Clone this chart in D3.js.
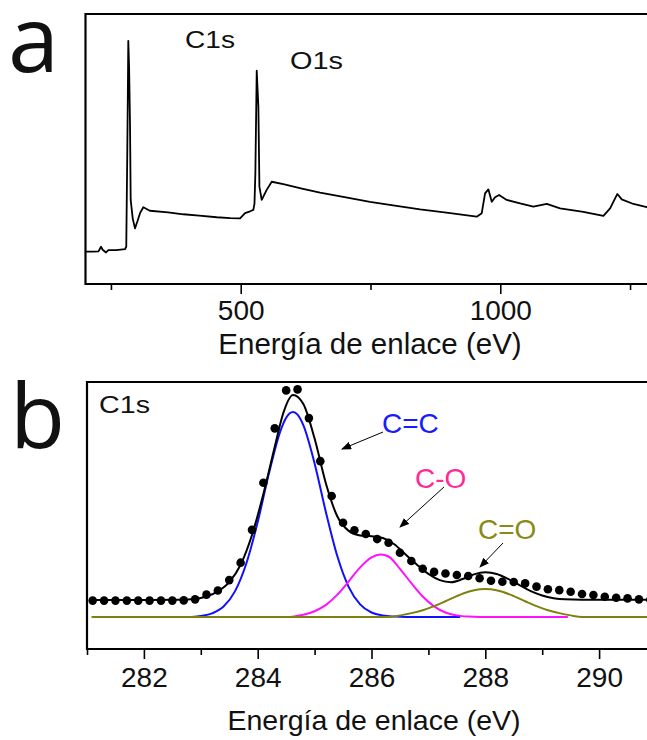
<!DOCTYPE html>
<html>
<head>
<meta charset="utf-8">
<script src="https://cdnjs.cloudflare.com/ajax/libs/d3/7.8.5/d3.min.js"></script>
<style>
  body { margin: 0; background: #fff; }
  svg text { font-family: "Liberation Sans", Arial, sans-serif; }
</style>
</head>
<body>
<script>

// (a) survey spectrum, binding energy (eV) vs intensity (a.u.)
var surveyEnergy = [202, 215, 226, 230.8, 234, 240.5, 245, 260, 277, 279.5, 281.5, 282.5, 283.4, 285, 286.7, 288,
  292, 296.3, 301, 306, 312.3, 325, 360, 389.4, 420, 453.7, 480, 498.7, 508.3, 518, 524.3, 526.5, 528.2, 530.8,
  532.5, 534, 536, 540.4, 545, 550, 559.7, 582, 620, 652.8, 700, 749, 800, 845.5, 900, 954.7, 964.3, 970.7, 977,
  983.6, 990, 997.7, 1012.5, 1040, 1063.8, 1089.6, 1115.2, 1160, 1198.7, 1211.6, 1220, 1225.6, 1234, 1256.5, 1282.2, 1300];
var surveyCounts = [12.3, 12.3, 12.4, 14.1, 13.0, 12.0, 12.9, 12.9, 13.2, 14.1, 49.8, 70, 90.1, 80, 59.8, 31.4,
  24.5, 20.9, 23.5, 26.5, 28.7, 27.4, 26.8, 26.1, 25.6, 25.0, 24.7, 24.6, 26.5, 27.2, 27.7, 30, 41.2, 79.1,
  72, 65.8, 36.3, 31.4, 33.2, 35.1, 38.1, 37.2, 35.5, 34.1, 32.4, 30.7, 29.2, 27.9, 26.6, 25.2, 26.5, 33.8, 35.3,
  30.7, 32.4, 33.2, 31.4, 30.0, 28.9, 29.9, 28.3, 27.0, 25.5, 28.3, 31.5, 33.6, 31.6, 29.9, 28.7, 28.3];
var surveyPeaks = ["C1s", "O1s"];
var surveyTicks = [500, 1000];
var surveyMinorTicks = [250, 750, 1250];

// (b) high resolution C1s: measured points
var c1sEnergy = [281.1, 281.3, 281.5, 281.7, 281.9, 282.1, 282.3, 282.5, 282.7, 282.9, 283.1, 283.3, 283.5, 283.7,
  283.9, 284.1, 284.3, 284.5, 284.7, 284.9, 285.1, 285.3, 285.5, 285.7, 285.9, 286.1, 286.3, 286.5, 286.7, 286.9,
  287.1, 287.3, 287.5, 287.7, 287.9, 288.1, 288.3, 288.5, 288.7, 288.9, 289.1, 289.3, 289.5, 289.7, 289.9, 290.1,
  290.3, 290.5, 290.7, 290.9];
var c1sCounts = [8.0, 8.0, 8.0, 8.0, 8.0, 8.0, 8.0, 8.0, 8.1, 8.6, 10.9, 12.9, 18.0, 26.5,
  42.5, 65.5, 92.0, 110.5, 111.0, 97.0, 76.0, 59.0, 46.0, 42.3, 40.5, 38.0, 36.2, 31.3, 27.3, 23.5,
  22.0, 21.2, 20.5, 20.0, 18.9, 17.7, 17.2, 17.1, 16.4, 14.8, 13.5, 13.1, 12.3, 11.2, 10.7, 9.9,
  9.4, 9.1, 8.6, 8.4];

// envelope of the fit
var fitEnergy = [281.05, 282.0, 282.6, 282.9, 283.1, 283.3, 283.5, 283.7, 283.9, 284.1, 284.3, 284.45, 284.62,
  284.8, 285.0, 285.2, 285.4, 285.6, 285.8, 286.0, 286.2, 286.4, 286.6, 286.8, 287.0, 287.2, 287.4, 287.6, 287.8,
  288.0, 288.2, 288.4, 288.6, 288.8, 289.0, 289.2, 289.4, 289.7, 291.0];
var fitCounts = [8.3, 8.3, 8.4, 8.8, 10.0, 12.5, 17.0, 25.5, 40.0, 60.0, 83.0, 99.5, 108.3,
  104.0, 87.0, 65.0, 49.0, 42.0, 39.8, 39.4, 38.5, 35.5, 30.5, 25.5, 21.0, 18.0, 17.0, 18.5, 20.8,
  21.8, 21.0, 18.6, 15.6, 12.6, 10.5, 9.2, 8.6, 8.4, 8.4];

// fitted components
var ccEnergy = [282.84, 283.0, 283.2, 283.4, 283.6, 283.8, 284.0, 284.2, 284.4, 284.5, 284.62, 284.7, 284.8,
  285.0, 285.2, 285.4, 285.6, 285.8, 286.0, 286.2, 286.4, 286.6, 287.56];
var ccCounts = [0, 0.5, 1.8, 5.1, 12.5, 26.1, 46.3, 70.3, 90.8, 97.2, 100, 98.7, 93.7,
  74.9, 51.0, 29.6, 14.6, 6.2, 2.2, 0.7, 0.2, 0, 0];

var coEnergy = [284.57, 284.8, 285.0, 285.2, 285.4, 285.6, 285.8, 286.0, 286.16, 286.3, 286.5, 286.7, 286.9,
  287.1, 287.3, 287.5, 287.7, 287.9, 288.2, 289.45];
var coCounts = [0, 1.1, 2.8, 5.9, 10.9, 17.4, 24.2, 29.1, 30.5, 29.5, 23.5, 16.5, 10.0,
  5.2, 2.2, 0.8, 0.2, 0, 0, 0];

var c2oEnergy = [281.08, 286.3, 286.47, 286.7, 286.9, 287.1, 287.3, 287.5, 287.7, 287.9, 288.0, 288.1, 288.3,
  288.5, 288.7, 288.9, 289.1, 289.3, 289.5, 289.7, 291.0];
var c2oCounts = [0, 0, 0.6, 1.9, 3.3, 5.3, 7.7, 10.2, 12.3, 13.5, 13.7, 13.5, 12.3,
  10.2, 7.7, 5.3, 3.3, 1.9, 0.8, 0, 0];

var componentNames = ["C=C", "C-O", "C=O"];
var c1sTicks = [282, 284, 286, 288, 290];
var c1sMinorTicks = [281, 283, 285, 287, 289, 291];

var axisTitle = "Energía de enlace (eV)";

var width = 647, height = 740;

var svg = d3.select("body").append("svg")
    .attr("width", width)
    .attr("height", height);

var defs = svg.append("defs");
defs.append("marker")
    .attr("id", "arrow")
    .attr("markerUnits", "userSpaceOnUse")
    .attr("markerWidth", 10)
    .attr("markerHeight", 8)
    .attr("refX", 9)
    .attr("refY", 4)
    .attr("orient", "auto")
  .append("path")
    .attr("d", "M0,0 L10,4 L0,8 z")
    .attr("fill", "#000");

function zip(xs, ys) {
  return xs.map(function(x, i) { return [x, ys[i]]; });
}

// draws box, ticks and title
function drawFrame(g, box, x, major, minor, labelPad, titleY, titleX, titleSize) {
  g.append("g")
      .attr("transform", "translate(0," + box.bottom + ")")
      .call(d3.axisBottom(x).tickValues(minor).tickSize(6).tickFormat(""))
      .call(function(a) { a.select(".domain").remove(); })
      .selectAll("line").attr("stroke", "#000").attr("stroke-width", 1.6);

  var ax = g.append("g")
      .attr("transform", "translate(0," + box.bottom + ")")
      .call(d3.axisBottom(x).tickValues(major).tickSize(10).tickPadding(labelPad).tickFormat(d3.format("d")));
  ax.select(".domain").remove();
  ax.selectAll("line").attr("stroke", "#000").attr("stroke-width", 1.6);
  ax.selectAll("text")
      .attr("fill", "#111")
      .style("font-size", "28px")
      .style("font-family", "'Liberation Sans', Arial, sans-serif");

  g.append("path")
      .attr("d", "M" + box.right + "," + box.top + "H" + box.left + "V" + box.bottom + "H" + box.right)
      .attr("fill", "none")
      .attr("stroke", "#000")
      .attr("stroke-width", 2.2);

  g.append("text")
      .attr("x", titleX)
      .attr("y", titleY)
      .attr("text-anchor", "middle")
      .attr("fill", "#111")
      .style("font-size", titleSize + "px")
      .text(axisTitle);
}

// ---------- panel a ----------
var boxA = {left: 85.5, right: 660, top: 14, bottom: 284};
var xA = d3.scaleLinear().domain([200, 1300]).range([85, 656]);
var yA = d3.scaleLinear().domain([0, 100]).range([285, 14]);

var gA = svg.append("g");

gA.append("path")
    .datum(zip(surveyEnergy, surveyCounts))
    .attr("fill", "none")
    .attr("stroke", "#000")
    .attr("stroke-width", 1.8)
    .attr("stroke-linejoin", "round")
    .attr("d", d3.line().x(function(d) { return xA(d[0]); }).y(function(d) { return yA(d[1]); }));

drawFrame(gA, boxA, xA, surveyTicks, surveyMinorTicks, 6.5, 354, 370, 29.5);

gA.append("text").attr("x", 185).attr("y", 48).attr("textLength", 50).attr("lengthAdjust", "spacingAndGlyphs")
    .style("font-size", "24px").attr("fill", "#111").text(surveyPeaks[0]);
gA.append("text").attr("x", 290).attr("y", 69).attr("textLength", 53).attr("lengthAdjust", "spacingAndGlyphs")
    .style("font-size", "24px").attr("fill", "#111").text(surveyPeaks[1]);

svg.append("text").attr("x", 8).attr("y", 72)
    .style("font-family", "'Open Sans', 'Noto Sans', sans-serif")
    .style("font-size", "92px").attr("fill", "#111").text("a");

// ---------- panel b ----------
var boxB = {left: 87, right: 660, top: 382, bottom: 649};
var xB = d3.scaleLinear().domain([281, 291]).range([87, 656]);
var yB = d3.scaleLinear().domain([-15.6, 114.6]).range([649, 382]);

var gB = svg.append("g");

defs.append("clipPath").attr("id", "clipB")
  .append("rect")
    .attr("x", boxB.left).attr("y", boxB.top)
    .attr("width", boxB.right - boxB.left).attr("height", boxB.bottom - boxB.top);

var plotB = gB.append("g").attr("clip-path", "url(#clipB)");

var smooth = d3.line()
    .curve(d3.curveMonotoneX)
    .x(function(d) { return xB(d[0]); })
    .y(function(d) { return yB(d[1]); });

var components = [
  {data: zip(ccEnergy, ccCounts), color: "#1010ff"},
  {data: zip(coEnergy, coCounts), color: "#ff10ff"},
  {data: zip(c2oEnergy, c2oCounts), color: "#808010"}
];

plotB.selectAll("path.comp")
    .data(components)
    .enter().append("path")
    .attr("class", "comp")
    .attr("fill", "none")
    .attr("stroke", function(d) { return d.color; })
    .attr("stroke-width", 2)
    .attr("d", function(d) { return smooth(d.data); });

plotB.append("path")
    .datum(zip(fitEnergy, fitCounts))
    .attr("fill", "none")
    .attr("stroke", "#000")
    .attr("stroke-width", 2)
    .attr("d", smooth);

plotB.selectAll("circle")
    .data(zip(c1sEnergy, c1sCounts))
    .enter().append("circle")
    .attr("cx", function(d) { return xB(d[0]); })
    .attr("cy", function(d) { return yB(d[1]); })
    .attr("r", 4.3)
    .attr("fill", "#000");

drawFrame(gB, boxB, xB, c1sTicks, c1sMinorTicks, 8, 730, 374, 28.5);

gB.append("text").attr("x", 99).attr("y", 413).attr("textLength", 51).attr("lengthAdjust", "spacingAndGlyphs")
    .style("font-size", "24px").attr("fill", "#111").text("C1s");

// labels of the components with arrows
var notes = [
  {name: componentNames[0], color: "#1a1aff", tx: 382, ty: 433, x1: 383, y1: 432, x2: 342, y2: 449},
  {name: componentNames[1], color: "#ff2a9a", tx: 415, ty: 488, x1: 444, y1: 487, x2: 400, y2: 527},
  {name: componentNames[2], color: "#8a8a18", tx: 478, ty: 539, x1: 503, y1: 543, x2: 480, y2: 567}
];

gB.selectAll("line.note")
    .data(notes)
    .enter().append("line")
    .attr("class", "note")
    .attr("x1", function(d) { return d.x1; })
    .attr("y1", function(d) { return d.y1; })
    .attr("x2", function(d) { return d.x2; })
    .attr("y2", function(d) { return d.y2; })
    .attr("stroke", "#000")
    .attr("stroke-width", 1)
    .attr("marker-end", "url(#arrow)");

gB.selectAll("text.note")
    .data(notes)
    .enter().append("text")
    .attr("class", "note")
    .attr("x", function(d) { return d.tx; })
    .attr("y", function(d) { return d.ty; })
    .attr("fill", function(d) { return d.color; })
    .style("font-size", "28px")
    .text(function(d) { return d.name; });

svg.append("text").attr("x", 10).attr("y", 448)
    .style("font-family", "'Open Sans', 'Noto Sans', sans-serif")
    .style("font-size", "90px").attr("fill", "#111").text("b");

</script>
</body>
</html>
